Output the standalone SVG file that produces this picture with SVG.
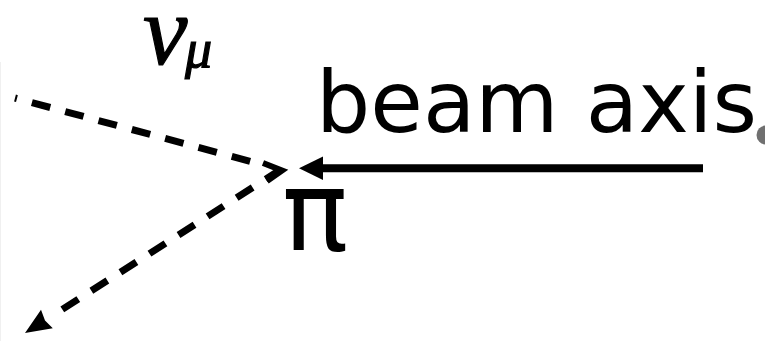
<svg xmlns="http://www.w3.org/2000/svg" width="765" height="341" viewBox="0 0 765 341">
  <style>
    .lbl { font-family: "DejaVu Sans", sans-serif; fill: #000; }
    .greek { font-family: "Liberation Serif", "Times New Roman", serif; font-style: italic; fill: #000; stroke: #000; stroke-width: 1.2; }
    .dash { fill: none; stroke: #000; stroke-width: 7; stroke-dasharray: 19 15.5; }
    .solid { fill: none; stroke: #000; stroke-width: 8; }
  </style>
  <rect width="765" height="341" fill="#fff"/>
  <line x1="0.5" y1="62" x2="0.5" y2="341" stroke="#f0f0f0" stroke-width="1"/>

  <g id="connectors">
    <!-- incoming neutrino line (upper, dashed) -->
    <line class="dash" x1="15" y1="98" x2="262" y2="164.6" stroke-dashoffset="17"/>
    <polyline points="263,163 282,170.5 267,181" fill="none" stroke="#000" stroke-width="6" stroke-linejoin="miter"/>
    <!-- outgoing dashed line (lower) -->
    <line class="dash" x1="280" y1="170" x2="52" y2="316" stroke-dashoffset="2"/>
    <polygon points="25,333 41,309.7 45,320.5 52.8,328.3"/>
    <!-- beam axis arrow -->
    <line class="solid" x1="703" y1="168.3" x2="318" y2="168.3"/>
    <polygon points="299,168.3 323,156.5 323,180"/>
  </g>

  <g id="nu-mu">
    <text class="greek" x="143" y="64" font-size="100">ν</text>
    <text class="greek" x="185" y="67" font-size="54" stroke-width="0.4">μ</text>
  </g>

  <g id="beam-axis">
    <text class="lbl" x="316" y="132" font-size="85.5">beam axis</text>
    <circle cx="766" cy="135" r="9.5" fill="#707070"/>
  </g>

  <g id="pion">
    <text class="lbl" x="282" y="250" font-size="110">π</text>
  </g>
</svg>
